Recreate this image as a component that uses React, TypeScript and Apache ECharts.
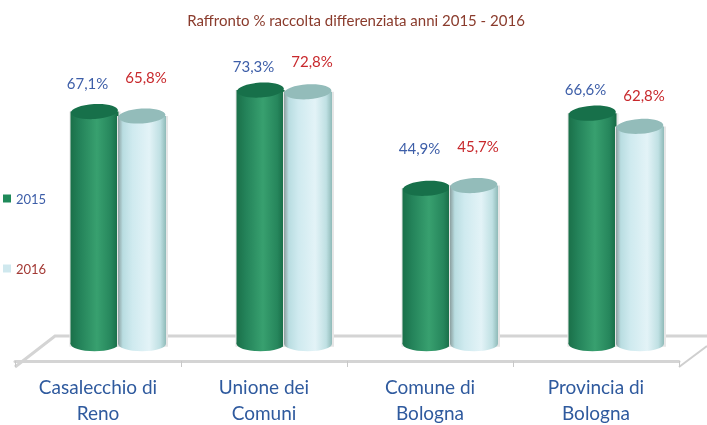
import React, { useEffect, useRef } from "react";
import * as echarts from "echarts";

const categories = ["Casalecchio di\nReno", "Unione dei\nComuni", "Comune di\nBologna", "Provincia di\nBologna"];
const values2015 = [67.1, 73.3, 44.9, 66.6];
const values2016 = [65.8, 72.8, 45.7, 62.8];
const titleText = "Raffronto % raccolta differenziata anni 2015 - 2016";

const labelGap2015 = [29, 24, 40, 24];
const labelGap2016 = [39, 31, 40, 31];
const FONT = "Lato, 'Open Sans', sans-serif";

const grad = (stops: [number, string][]) =>
  new echarts.graphic.LinearGradient(0, 0, 1, 0, stops.map(([offset, color]) => ({ offset, color })));

const greenStops: [number, string][] = [
  [0, "#1a7049"], [0.2, "#24835a"], [0.55, "#38a06f"], [0.85, "#26865c"], [1, "#176a45"],
];
const lightStops: [number, string][] = [
  [0, "#8b9f9f"], [0.1, "#b9dde1"], [0.3, "#cfeaef"], [0.65, "#e3f3f7"], [0.88, "#bfe0e3"], [1, "#8fbab8"],
];

function cylinder(opts: {
  stops: [number, string][];
  top: string;
  shift: number;
  labelDx: number;
  labelColor: string;
  gaps: number[];
}) {
  return (params: any, api: any) => {
    const idx = api.value(0);
    const val = api.value(1);
    const bandW = api.size([1, 0])[0];
    const scale = bandW / 166;
    const [x0, yTop] = api.coord([idx, val]);
    const [, yBase] = api.coord([idx, 0]);
    const cx = x0 + 20 * scale + opts.shift;
    const rx = 24;
    const ry = 7.5;
    const fill = grad(opts.stops);
    const text = val.toFixed(1).replace(".", ",") + "%";
    return {
      type: "group",
      children: [
        {
          type: "rect",
          shape: { x: cx - rx - 1, y: yTop, width: 2 * rx + 3, height: yBase - yTop + 3 },
          style: { fill: "#e6e6e6" },
        },
        {
          type: "ellipse",
          shape: { cx, cy: yBase, rx, ry },
          style: { fill },
        },
        {
          type: "rect",
          shape: { x: cx - rx, y: yTop, width: 2 * rx, height: yBase - yTop },
          style: { fill },
        },
        {
          type: "ellipse",
          shape: { cx, cy: yTop, rx: rx - 0.5, ry },
          rotation: 0.06,
          originX: cx,
          originY: yTop,
          style: { fill: opts.top },
        },
        {
          type: "text",
          x: cx + opts.labelDx,
          y: yTop - opts.gaps[idx],
          style: {
            text,
            fill: opts.labelColor,
            font: `15px ${FONT}`,
            align: "center",
            verticalAlign: "middle",
          },
        },
      ],
    };
  };
}

export default function App() {
  const ref = useRef<HTMLDivElement>(null);
  useEffect(() => {
    document.body.style.margin = "0";
    const chart = echarts.init(ref.current!, null, { renderer: "svg" });
    chart.setOption({
      animation: false,
      backgroundColor: "#ffffff",
      title: {
        text: titleText,
        left: 356,
        top: 12,
        padding: 0,
        textAlign: "center",
        textStyle: { color: "#8a3b2c", fontSize: 15, fontWeight: "normal", fontFamily: FONT },
      },
      legend: {
        orient: "vertical",
        left: 3,
        top: 192,
        padding: 0,
        itemWidth: 8,
        itemHeight: 8,
        itemGap: 57,
        selectedMode: false,
        textStyle: { fontSize: 13, fontFamily: FONT },
        data: [
          { name: "2015", icon: "rect", itemStyle: { color: "#1f8a5a" }, textStyle: { color: "#3d5ea8" } },
          { name: "2016", icon: "rect", itemStyle: { color: "#cfe8ee" }, textStyle: { color: "#a33a35" } },
        ],
      },
      grid: { left: 15, top: 15, width: 664, height: 353 },
      xAxis: {
        type: "category",
        data: categories,
        axisLine: { onZero: false, lineStyle: { color: "#d4d4d4", width: 3 } },
        axisTick: { show: true, length: 6, lineStyle: { color: "#c8c8c8", width: 1 } },
        axisLabel: {
          color: "#2f5a9e",
          fontSize: 19,
          fontFamily: FONT,
          lineHeight: 26,
          margin: 12,
          interval: 0,
        },
      },
      yAxis: { type: "value", min: -5, max: 95, show: false },
      graphic: [
        {
          type: "polyline",
          z: 0,
          shape: { points: [[15, 367], [55, 336], [707, 336]] },
          style: { stroke: "#d4d4d4", lineWidth: 3, fill: "none" },
        },
        {
          type: "line",
          z: 0,
          shape: { x1: 679, y1: 367, x2: 707, y2: 346 },
          style: { stroke: "#cfcfcf", lineWidth: 2 },
        },
      ],
      series: [
        {
          name: "2015",
          type: "custom",
          z: 3,
          clip: false,
          itemStyle: { color: "#1f8a5a" },
          encode: { x: 0, y: 1 },
          data: values2015.map((v, i) => [i, v]),
          renderItem: cylinder({
            stops: greenStops,
            top: "#17704a",
            shift: -23.5,
            labelDx: -7,
            labelColor: "#3d5ea8",
            gaps: labelGap2015,
          }),
        },
        {
          name: "2016",
          type: "custom",
          z: 4,
          clip: false,
          itemStyle: { color: "#cfe8ee" },
          encode: { x: 0, y: 1 },
          data: values2016.map((v, i) => [i, v]),
          renderItem: cylinder({
            stops: lightStops,
            top: "#93bcba",
            shift: 24,
            labelDx: 4,
            labelColor: "#c8282c",
            gaps: labelGap2016,
          }),
        },
      ],
    });
    return () => chart.dispose();
  }, []);
  return (
    <div
      ref={ref}
      style={{ position: "absolute", left: 0, top: 0, width: 707, height: 425, overflow: "hidden", filter: "blur(0.7px)" }}
    />
  );
}
